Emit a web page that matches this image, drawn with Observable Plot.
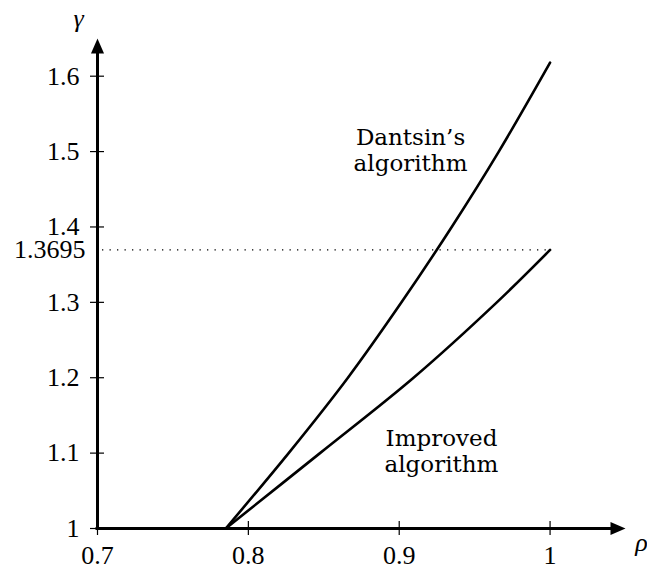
<!DOCTYPE html>
<html><head><meta charset="utf-8">
<script src="https://cdn.jsdelivr.net/npm/d3@7"></script>
<script src="https://cdn.jsdelivr.net/npm/@observablehq/plot@0.6"></script>
<style>body{margin:0;background:#fff}</style>
</head><body><div id="chart"></div>
<script>
// Data
const rhoDantsin = [0.785, 0.8267, 0.866, 0.9015, 0.9348, 0.966, 1];
const gammaDantsin = [1, 1.1, 1.2, 1.3, 1.4, 1.5, 1.618];
const rhoImproved = [0.785, 0.8475, 0.9095, 0.9647, 1];
const gammaImproved = [1, 1.1, 1.2, 1.3, 1.3695];
const xTicks = [0.7, 0.8, 0.9, 1];
const yTicks = [1, 1.1, 1.2, 1.3, 1.4, 1.5, 1.6];
const markedGamma = [1.3695];
const xExtent = [0.7, 1.05];
const yExtent = [1, 1.65];
const curveLabels = ["Dantsin’s\nalgorithm", "Improved\nalgorithm"];
const curveLabelRho = [0.9075, 0.928];
const curveLabelGamma = [1.534, 1.134];

const dantsin = rhoDantsin.map((r, i) => ({rho: r, gamma: gammaDantsin[i]}));
const improved = rhoImproved.map((r, i) => ({rho: r, gamma: gammaImproved[i]}));
const labels = curveLabels.map((t, i) => ({text: t, rho: curveLabelRho[i], gamma: curveLabelGamma[i]}));

const arrowHead = {draw(ctx) { ctx.moveTo(0, 0); ctx.lineTo(6.5, 15); ctx.lineTo(-6.5, 15); ctx.closePath(); }};
const serif = "'Liberation Serif', serif";
const textFont = "'DejaVu Serif', serif";

const chart = Plot.plot({
  width: 647,
  height: 569,
  marginLeft: 97,
  marginRight: 22,
  marginTop: 38,
  marginBottom: 41,
  x: {domain: xExtent},
  y: {domain: yExtent},
  style: {fontFamily: serif, fontSize: "26px", color: "#000", background: "#fff"},
  marks: [
    Plot.ruleY(markedGamma, {x1: xExtent[0], x2: 1, stroke: "#000", strokeWidth: 1.2, strokeDasharray: "1.3,6.2", strokeDashoffset: -5}),
    Plot.axisX(xTicks, {anchor: "bottom", tickSize: 14, dy: -7, fill: "none", strokeWidth: 1.2, label: null}),
    Plot.axisY(yTicks, {anchor: "left", tickSize: 14, dx: 7, fill: "none", strokeWidth: 1.2, label: null}),
    Plot.axisX(xTicks, {anchor: "bottom", tickSize: 0, tickPadding: 17, tickFormat: d => String(d), label: null, fontSize: 26, fontFamily: serif}),
    Plot.axisY(yTicks, {anchor: "left", tickSize: 0, tickPadding: 18, tickFormat: d => String(d), label: null, fontSize: 26, fontFamily: serif}),
    Plot.text(markedGamma, {x: xExtent[0], y: d => d, text: d => String(d), textAnchor: "end", dx: -12, fontSize: 26, fontFamily: serif}),
    Plot.ruleY([yExtent[0]], {x1: xExtent[0], x2: xExtent[1] - 0.008, stroke: "#000", strokeWidth: 3, strokeLinecap: "square"}),
    Plot.ruleX([xExtent[0]], {y1: yExtent[0], y2: yExtent[1] - 0.012, stroke: "#000", strokeWidth: 3, strokeLinecap: "square"}),
    Plot.dot([0], {x: xExtent[0], y: yExtent[1], symbol: arrowHead, fill: "#000", stroke: "none"}),
    Plot.dot([0], {x: xExtent[1], y: yExtent[0], symbol: arrowHead, fill: "#000", stroke: "none", rotate: 90}),
    Plot.text(["γ"], {x: xExtent[0], y: yExtent[1], text: d => d, dx: -19, dy: -20, fontStyle: "italic", fontSize: 26, fontFamily: serif}),
    Plot.text(["ρ"], {x: xExtent[1], y: yExtent[0], text: d => d, dx: 16, dy: 14, fontStyle: "italic", fontSize: 26, fontFamily: serif}),
    Plot.line(dantsin, {x: "rho", y: "gamma", curve: "catmull-rom", stroke: "#000", strokeWidth: 2.6}),
    Plot.line(improved, {x: "rho", y: "gamma", curve: "catmull-rom", stroke: "#000", strokeWidth: 2.6}),
    Plot.text(labels, {x: "rho", y: "gamma", text: "text", lineAnchor: "top", lineHeight: 1.14, fontSize: 23, fontFamily: textFont, fill: "#000"})
  ]
});
document.getElementById("chart").appendChild(chart);
</script>
</body></html>
